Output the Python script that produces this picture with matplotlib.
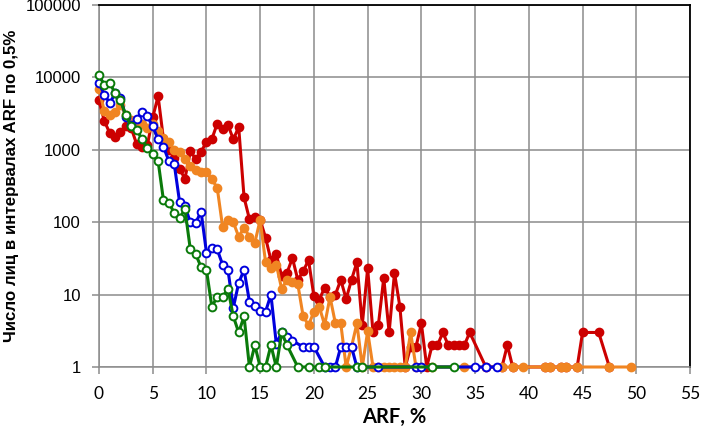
import matplotlib
matplotlib.use("Agg")
import matplotlib.pyplot as plt
from matplotlib.ticker import FixedLocator, NullLocator, FixedFormatter

N = None
# ARF bins (step 0.5 %)
arf = [i * 0.5 for i in range(100)]

red = [4800, 2500, 1700, 1500, 1750, 2100, 2000, 1200, 1100, 1150,
       2800, 5500, 1400, 1000, 780, 540, 400, 950, 750, 930,
       1300, 1400, 2300, 1950, 2200, 1400, 2050, 220, 110, 118,
       108, 61, 30, 36, 18, 20, 32, 16, 21, 30,
       9.5, 8.5, 12.5, 9.4, 10, 16, 8.7, 16, 28, 3.8,
       23, 3, 3.8, 17, 3, 20, 6.8, 1, 1.9, 1.9,
       4, 1, 2, 2, 3, 2, 2, 2, 2, 3,
       N, N, 1, N, N, 1, 2, 1, N, N,
       N, N, N, 1, 1, N, 1, 1, N, 1,
       3, N, N, 3, N, 1]

orange = [7000, 3400, 3000, 3300, 4200, 3000, 2600, 2200, 2300, 2000,
          2300, 1800, 1450, 1300, 1000, 920, 740, 590, 530, 500,
          490, 390, 300, 87, 108, 100, 63, 84, 63, 52,
          108, 28, 23, 26, 12, 16, 15, 14, 5, 3.8,
          5.8, 6.8, 3.8, 9.3, 4, 4, 1, 1.9, 4, 1,
          3.1, 1, 1, 1, 1, 1, 1, 1, 3, 1,
          1, N, 1, N, N, N, N, N, 1, N,
          N, N, N, N, N, 1, N, 1, N, 1,
          N, N, N, 1, 1, N, 1, 1, N, 1,
          N, N, N, N, N, 1, N, N, N, 1]

blue = [8300, 5800, 4400, 6000, 5200, 2850, 2200, 2700, 3300, 2900,
        2100, 1400, 1100, 700, 640, 190, 165, 100, 98, 140,
        38, 44, 42, 26, 22, 6.6, 14.5, 22, 8, 7,
        6, 5.8, 10, 2.1, 3, 2.6, 2.3, N, 1.9, 1.9,
        1.9, N, 1, 1, 1, 1.9, 1.9, 1.9, 1, N,
        N, N, 1, N, N, N, N, N, N, 1,
        1, N, N, N, N, N, N, N, N, N,
        1, N, 1, N, 1]

green = [10800, 7800, 8500, 6000, 4800, 3000, 2100, 1900, 1400, 1050,
         880, 700, 200, 185, 135, 115, 150, 42, 36, 24,
         22, 6.8, 9.3, 9.3, 12, 5, 3, 5, 1, 2,
         1, 1, 2, 1, 3, 2, N, 1, N, 1,
         N, 1, 1, N, N, N, N, N, 1, 1,
         N, N, N, N, N, N, N, N, N, N,
         N, N, 1, N, N, N, 1]

series = [
    (red, "#CC0000", "#CC0000"),
    (orange, "#F08522", "#F08522"),
    (blue, "#0000DD", "white"),
    (green, "#0A7A0A", "white"),
]

xticks = [0, 5, 10, 15, 20, 25, 30, 35, 40, 45, 50, 55]
yticks = [1, 10, 100, 1000, 10000, 100000]
ytick_labels = ["1", "10", "100", "1000", "10000", "100000"]

fig = plt.figure(figsize=(7.02, 4.30), dpi=100)
ax = fig.add_axes([99 / 702, 1 - 367 / 430, (690 - 99) / 702, (367 - 5) / 430])

for vals, col, face in series:
    pts = [(arf[i], v) for i, v in enumerate(vals) if v is not None]
    xs = [p[0] for p in pts]
    ys = [p[1] for p in pts]
    ax.plot(xs, ys, color=col, lw=2.2, marker="o", ms=5.6, mfc=face,
            mec=col, mew=1.4, clip_on=False, zorder=3)

ax.set_yscale("log")
ax.set_xlim(0, 55)
ax.set_ylim(1, 100000)
ax.xaxis.set_major_locator(FixedLocator(xticks))
ax.yaxis.set_major_locator(FixedLocator(yticks))
ax.yaxis.set_major_formatter(FixedFormatter(ytick_labels))
ax.yaxis.set_minor_locator(NullLocator())
ax.xaxis.set_minor_locator(NullLocator())

ax.grid(True, color="#8C8C8C", lw=1.1)
ax.set_axisbelow(True)
for s in ("left", "bottom"):
    ax.spines[s].set_color("#8C8C8C")
    ax.spines[s].set_linewidth(1.1)
for s in ("top", "right"):
    ax.spines[s].set_color("black")
    ax.spines[s].set_linewidth(1.3)

ax.tick_params(axis="both", direction="out", length=5, width=1.1, color="#8C8C8C")
ax.tick_params(axis="y", pad=8)
ax.tick_params(axis="x", pad=9)
for lab in ax.get_yticklabels():
    lab.set_fontfamily("Liberation Sans")
    lab.set_fontsize(12)
for lab in ax.get_xticklabels():
    lab.set_fontfamily("Lato")
    lab.set_fontsize(12.5)

fig.text(0.017, 1 - 186 / 430, "Число лиц в интервалах ARF по 0,5%", rotation=90,
         ha="center", va="center", fontsize=12.2, fontweight="bold",
         family=["Liberation Sans", "DejaVu Sans"])
fig.text(394.5 / 702, 1 - 417 / 430, "ARF, %", ha="center", va="center",
         fontsize=14.5, fontweight="bold", family=["Lato", "DejaVu Sans"])

fig.savefig("out.png", dpi=100)
